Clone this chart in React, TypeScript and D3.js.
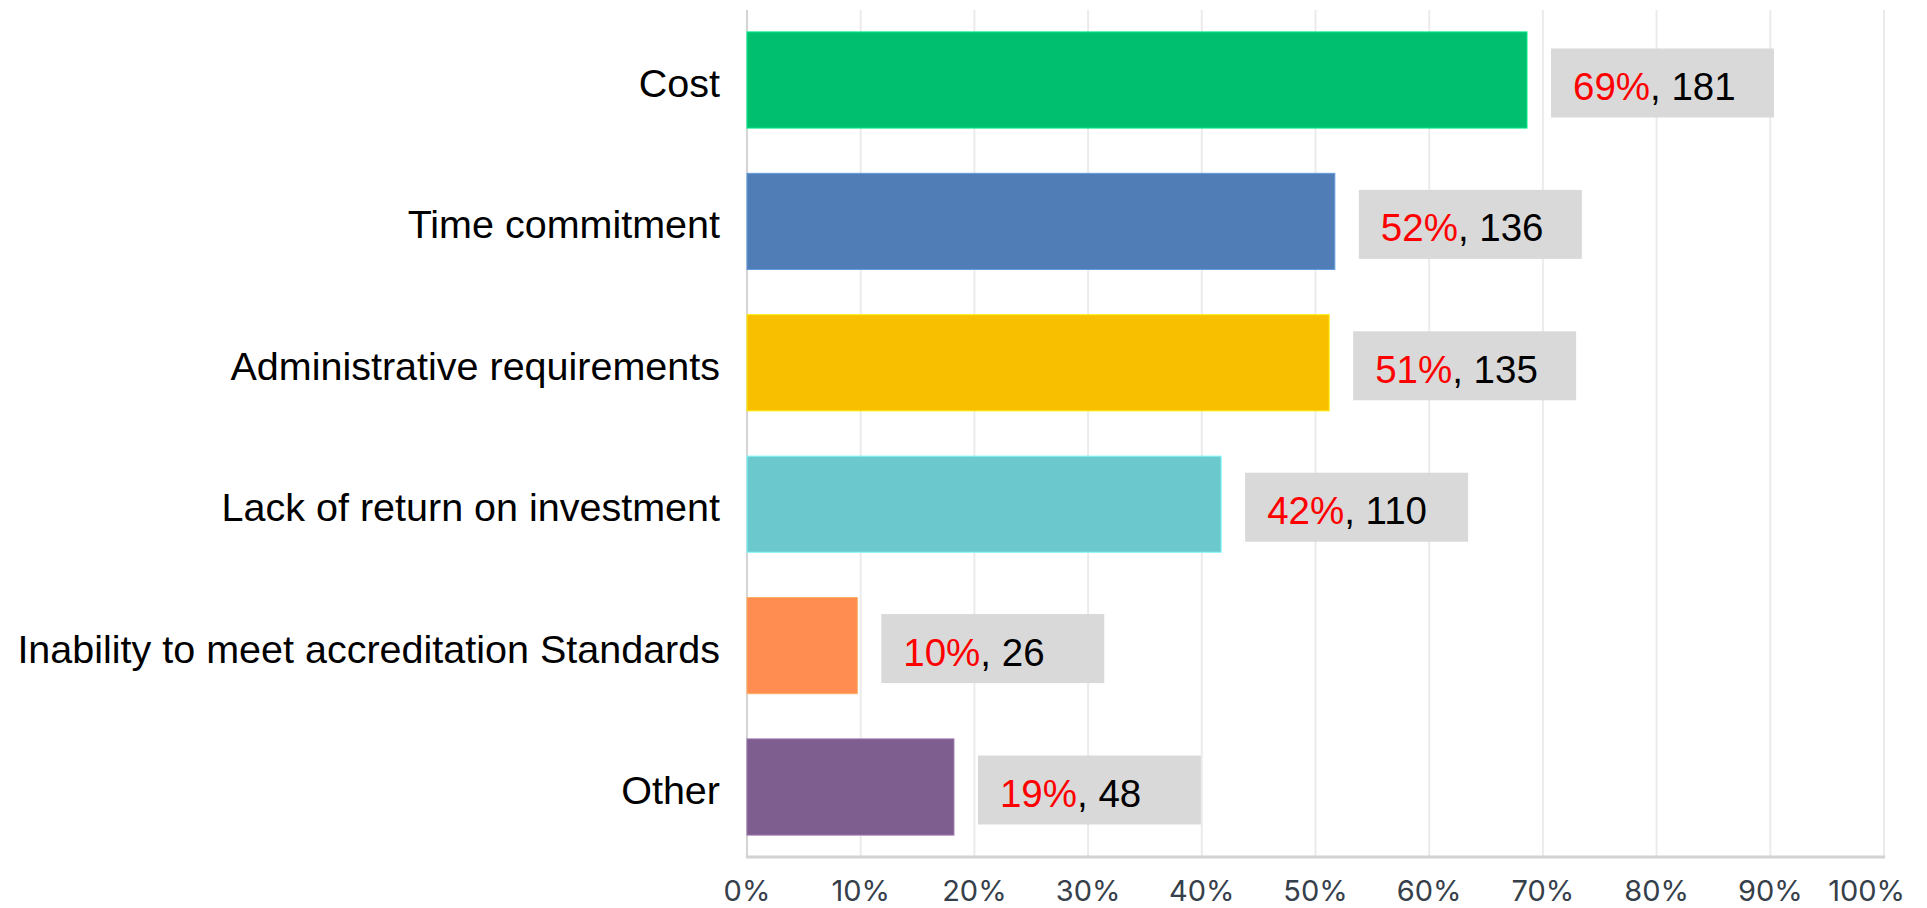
import React from "react";
import * as d3 from "d3";

const categories = [
  "Cost",
  "Time commitment",
  "Administrative requirements",
  "Lack of return on investment",
  "Inability to meet accreditation Standards",
  "Other",
];
const barValues = [68.6, 51.7, 51.2, 41.7, 9.7, 18.2];
const pctLabels = ["69%", "52%", "51%", "42%", "10%", "19%"];
const counts = [181, 136, 135, 110, 26, 48];
const barColors = ["#00BF6F", "#507DB5", "#F7BF00", "#6BC8CC", "#FF8C50", "#7E5E8E"];
const tickValues = [0, 10, 20, 30, 40, 50, 60, 70, 80, 90, 100];

const W = 1927;
const H = 908;
const left = 747;
const right = 1884;
const top = 10;
const bottom = 857;

export default function App() {
  const x = d3.scaleLinear().domain([0, 100]).range([left, right]);
  const y = d3
    .scaleBand<string>()
    .domain(categories)
    .range([top, bottom])
    .paddingInner(0.32)
    .paddingOuter(0.155);
  const bw = y.bandwidth();
  const boxW = 223;
  const boxH = 69;

  return (
    <div style={{ position: "fixed", left: 0, top: 0, background: "#fff" }}>
      <svg width={W} height={H} style={{ display: "block" }}>
        <rect x={0} y={0} width={W} height={H} fill="#ffffff" />
        {tickValues.map((t) => (
          <line
            key={"g" + t}
            x1={x(t)}
            x2={x(t)}
            y1={top}
            y2={bottom}
            stroke={t === 0 ? "#d4d4d4" : "#ebebeb"}
            strokeWidth={2}
          />
        ))}
        <line x1={left - 1} x2={right + 1} y1={bottom} y2={bottom} stroke="#d2d2d2" strokeWidth={3} />
        {categories.map((c, i) => {
          const y0 = y(c)!;
          const cy = y0 + bw / 2;
          const bx = x(barValues[i]);
          const boxX = bx + 24;
          const boxY = cy - boxH / 2 + 3;
          return (
            <g key={c}>
              <rect
                x={x(0)}
                y={y0}
                width={bx - x(0)}
                height={bw}
                fill={barColors[i]}
                stroke={d3.color(barColors[i])!.brighter(0.6).formatHex()}
                strokeWidth={1}
              />
              <text
                x={720}
                y={cy + 17}
                textAnchor="end"
                fontFamily="'Liberation Sans', Arial, sans-serif"
                fontSize={39.5}
                fill="#000"
              >
                {c}
              </text>
              <rect x={boxX} y={boxY} width={boxW} height={boxH} fill="#d9d9d9" />
              <text
                x={boxX + 22}
                y={cy + 20}
                fontFamily="'Liberation Sans', Arial, sans-serif"
                fontSize={38.5}
              >
                <tspan fill="#ff0000">{pctLabels[i]}</tspan>
                <tspan fill="#000000">{", " + counts[i]}</tspan>
              </text>
            </g>
          );
        })}
        {tickValues.map((t, i) => (
          <text
            key={"t" + t}
            x={i === tickValues.length - 1 ? x(t) + 21 : x(t)}
            y={901}
            textAnchor={i === tickValues.length - 1 ? "end" : "middle"}
            fontFamily="Inter, 'Open Sans', sans-serif"
            fontSize={29}
            fill="#36404a"
          >
            {t + "%"}
          </text>
        ))}
      </svg>
    </div>
  );
}
